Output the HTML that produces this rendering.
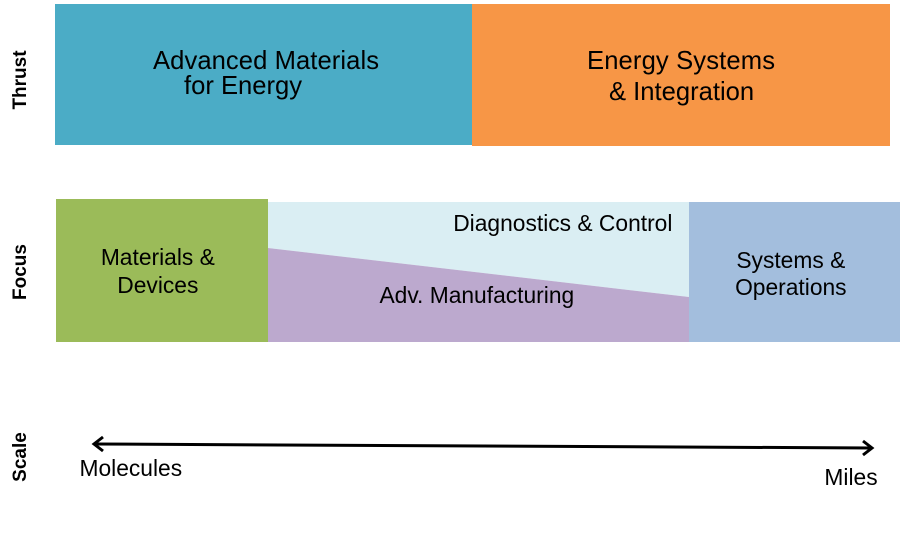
<!DOCTYPE html>
<html><head><style>
html,body{margin:0;padding:0;background:#fff;}
body{width:900px;height:534px;position:relative;overflow:hidden;font-family:"Liberation Sans",sans-serif;}
svg{position:absolute;left:0;top:0;}
</style></head><body>
<svg width="900" height="534" viewBox="0 0 900 534">
<rect x="55" y="4" width="417" height="141" fill="#4BACC6"/>
<rect x="472" y="4" width="418" height="142" fill="#F79646"/>
<text font-size="25.6" fill="#000" font-family="Liberation Sans, sans-serif">
<tspan x="153" y="69" textLength="226">Advanced Materials</tspan>
<tspan x="184" y="94">for Energy</tspan>
<tspan x="587" y="69" textLength="188">Energy Systems</tspan>
<tspan x="609" y="100">&amp; Integration</tspan>
</text>
<rect x="56" y="199" width="212" height="143" fill="#9BBB59"/>
<polygon points="268,202 689,202 689,297 268,248" fill="#DAEEF3"/>
<polygon points="268,248 689,297 689,342 268,342" fill="#BCA9CE"/>
<rect x="689" y="202" width="211" height="140" fill="#A3BEDD"/>
<text font-size="22.8" fill="#000" font-family="Liberation Sans, sans-serif" text-anchor="middle">
<tspan x="161" y="265">Materials &amp;</tspan>
<tspan x="161" y="293">Devices</tspan>
<tspan x="566" y="231">Diagnostics &amp; Control</tspan>
<tspan x="480" y="303">Adv. Manufacturing</tspan>
<tspan x="794" y="268">Systems &amp;</tspan>
<tspan x="794" y="295">Operations</tspan>
<tspan x="134" y="476">Molecules</tspan>
<tspan x="851" y="485">Miles</tspan>
</text>
<g font-size="19" font-weight="bold" fill="#000" text-anchor="middle" font-family="Liberation Sans, sans-serif">
<text transform="translate(26,80) rotate(-90)">Thrust</text>
<text transform="translate(26,272) rotate(-90)">Focus</text>
<text transform="translate(26,457) rotate(-90)">Scale</text>
</g>
<line x1="94" y1="444" x2="872" y2="448" stroke="#000" stroke-width="3"/>
<polyline points="103,437 94,444 103,451" fill="none" stroke="#000" stroke-width="3"/>
<polyline points="863,441 872,448 863,455" fill="none" stroke="#000" stroke-width="3"/>
</svg>
</body></html>
